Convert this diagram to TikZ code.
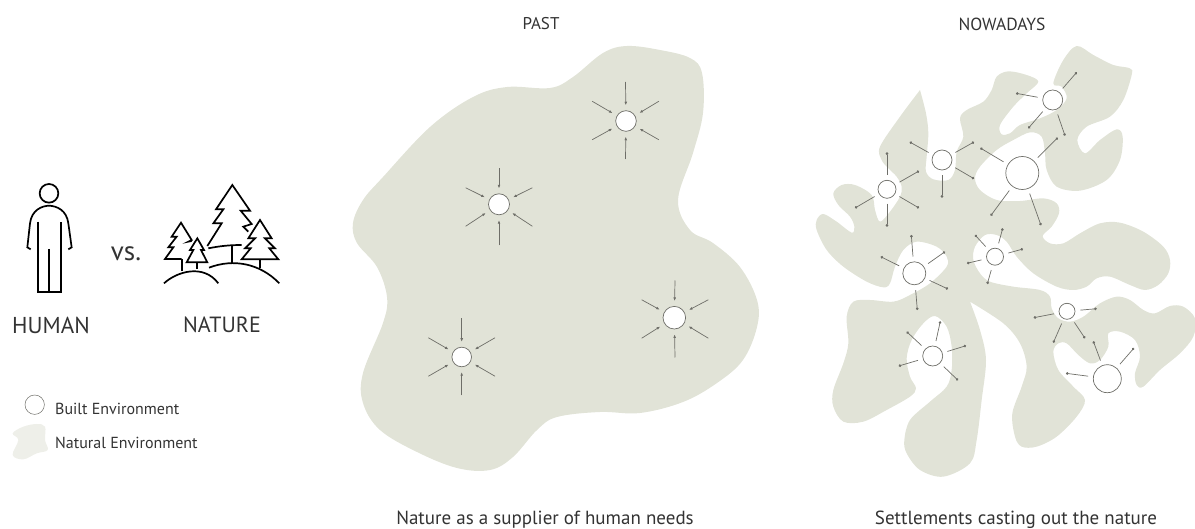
\documentclass[tikz,border=0pt]{standalone}
\usepackage{fontspec}
\setmainfont{PT Sans}
\usetikzlibrary{arrows.meta}
\definecolor{LandGreen}{HTML}{E1E3D7}
\definecolor{PaleGreen}{HTML}{EEEFE9}
\definecolor{InkGray}{HTML}{333333}
\definecolor{RayGray}{HTML}{6E6E68}
\tikzset{
  site/.style={circle,draw=RayGray,fill=white,line width=0.7pt,inner sep=0pt},
  inflow/.style={-{Latex[length=3.6pt,width=2.8pt]},RayGray,line width=0.7pt,shorten >=5pt},
  outflow/.style={-{Circle[length=2.6pt]},RayGray,line width=0.7pt,shorten <=5pt},
  icon/.style={black,line width=1.7pt,line join=miter},
  label/.style={text=InkGray,inner sep=0pt}
}
\begin{document}
\begin{tikzpicture}[x=1pt,y=-1pt]
  \useasboundingbox (0,0) rectangle (1195,529);
  % past land
  \fill[LandGreen] plot[smooth cycle,tension=0.6] coordinates {
    (627,46) (660,50) (690,58) (702,73) (703,113) (693,153) (678,200) (690,230)
    (713,243) (740,267) (757,300) (757,327) (743,360) (717,383) (683,402) (640,413)
    (600,412) (557,417) (537,430) (513,457) (490,470) (457,468) (417,452) (380,430)
    (363,403) (363,373) (383,323) (387,297) (377,267) (357,243) (353,223) (363,200)
    (383,177) (430,127) (473,97) (507,87) (550,88) (573,77) (603,53)};
  % nowadays land, one outline with two sharp tips
  \begin{scope}[shift={(800,30)},scale=1/3]
    \fill[LandGreen] plot[smooth,tension=0.55] coordinates {
      (360,180) (378,250) (385,310) (380,380) (378,425) (400,448) (445,450) (465,420)
      (470,365) (490,320) (480,265) (500,240) (550,215) (575,180) (590,140) (625,124)
      (680,135) (715,155) (680,190) (640,230) (600,285) (605,313) (630,310) (660,285)
      (720,265) (770,240) (800,205) (785,170) (760,160) (790,90) (830,48) (880,75)
      (940,105) (990,115) (995,135) (970,210) (930,260) (860,290) (832,330) (855,370)
      (900,330) (950,298) (968,320) (960,390) (920,450) (840,482) (770,470) (740,420)
      (735,370) (725,320) (690,307) (640,330) (590,360) (540,410) (525,445) (540,480)
      (590,510) (660,513) (730,505) (770,520) (777,550) (755,590) (728,618) (750,640)
      (790,640) (840,610) (900,580) (960,578) (1030,605) (1090,650) (1110,690) (1105,730)
      (1075,765) (1035,780) (990,765) (930,740) (890,745) (860,770) (820,780) (770,770)
      (700,730) (650,680) (620,635) (590,615) (555,615) (525,650) (520,690) (540,730)
      (570,755) (640,770) (720,780) (750,800) (755,835) (775,865) (810,875) (850,860)
      (900,820) (950,800) (990,810) (1030,840) (1065,850) (1110,828) (1150,830) (1185,865)
      (1180,920) (1140,970) (1080,1020) (1030,1070) (1010,1065) (1005,1030) (1020,980)
      (1005,930) (960,905) (925,910) (925,950) (900,990) (870,1000) (835,975) (800,940)
      (775,940) (760,965) (775,1020) (820,1070) (855,1110) (830,1160) (770,1220)
      (710,1250) (665,1250) (645,1220) (637,1150) (665,1070) (680,1010) (660,940)
      (610,880) (510,815)}
      -- plot[smooth,tension=0.55] coordinates {
      (510,815) (540,900) (558,990) (545,1110) (530,1230) (510,1300) (430,1340)
      (360,1320) (320,1270) (313,1230) (330,1170) (390,1115) (440,1070) (455,1020)
      (455,950) (440,890) (405,858) (370,880) (335,930) (320,985) (330,1040) (348,1075)
      (330,1100) (260,1140) (190,1175) (130,1175) (100,1130) (100,1080) (130,1000)
      (145,940) (140,860) (160,815) (210,810) (280,815) (330,795) (390,760) (440,710)
      (440,680) (410,650) (350,635) (310,660) (285,710) (270,760) (250,772) (200,755)
      (130,710) (80,660) (50,600) (50,570) (70,552) (110,575) (155,608) (163,590)
      (150,560) (115,525) (100,490) (125,465) (165,465) (215,495) (225,540) (240,575)
      (270,545) (300,500) (305,470) (290,440) (265,415) (245,390) (240,350) (300,260)
      (360,180)} -- cycle;
  \end{scope}
  % past settlements
  \foreach \nm/\cx/\cy/\rad/\ax/\ay in {p1/626/121/10.3/625.5/120.5,p2/499/204.3/10.5/499/207,
      p3/674.3/317.7/11.3/675/319,p4/461.7/357/9.8/461.7/357}{
    \node[site,minimum size=2*\rad pt] (\nm) at (\cx,\cy) {};
    \foreach \ang in {30,90,150,210,270,330}{
      \coordinate (\nm o\ang) at ([shift={(\ang:38.5)}]\ax,\ay);
      \draw[inflow] (\nm o\ang) -- (\nm);
    }
  }
  % nowadays settlements
  \foreach \nm/\cx/\cy/\rad/\ends in {
      n1/1052.7/100/10/{1076.7/72.3,1016/93.3,1028.3/128.3,1065/135.7},
      n2/942/160/10/{909.7/142,974/142,974/178.7,942/197.7},
      n3/1022.3/173/16.5/{980.3/148,1057.7/137.7,990.7/215.7,1041/225.3},
      n4/887/189.3/9/{887/152.3,919/171,919/208,887/226.7,855/208},
      n5/914.3/273.3/11.5/{911.3/235,880.7/256.7,945/251.7,948/289,917.3/310},
      n6/995/256.7/8.5/{1002.7/228.3,975/235,1023/249,967/263.3,987.3/284},
      n7/1067/311.3/8/{1096.7/308.7,1033.7/317.7,1053.3/342.7,1085/338.3},
      n8/1107.3/378.7/14/{1134/348,1093.3/341.3,1066/373.3},
      n9/932.7/356/10/{940.3/321.3,906.7/331.7,966/345.7,898.7/366,958/380.3}}{
    \node[site,minimum size=2*\rad pt] (\nm) at (\cx,\cy) {};
    \foreach \ex/\ey in \ends {
      \coordinate (tip) at (\ex,\ey);
      \draw[outflow] (\nm) -- (tip);
    }
  }
  % human icon
  \begin{scope}[shift={(0,170)},scale=1/3]
    \draw[icon] (147,70) circle (28);
    \draw[icon] (92,238) -- (82,232) -- (90,160) .. controls (95,120) and (125,108) .. (147,107)
      .. controls (170,108) and (200,120) .. (205,160) -- (215,232) -- (205,238);
    \draw[icon] (113,155) -- (113,367) -- (182,367) -- (182,155);
    \draw[icon] (147,237) -- (147,367);
    % trees
    \draw[icon] (622,228) -- (665,160) -- (640,160) -- (670,118) -- (648,118) -- (697,45)
      -- (750,122) -- (722,122) -- (755,162) -- (730,170) -- (745,185);
    \draw[icon] (625,235) .. controls (660,228) and (690,225) .. (725,225);
    \draw[icon] (697,225) -- (697,280);
    \draw[icon] (780,150) -- (815,205) -- (795,205) -- (825,235) -- (808,235) -- (835,268)
      -- (725,268) -- (752,235) -- (735,235) -- (765,205) -- (745,205) -- cycle;
    \draw[icon] (780,268) -- (780,295);
    \draw[icon] (575,213) -- (565,215) -- (575,210) -- (543,158) -- (515,200) -- (530,200)
      -- (505,232) -- (520,232) -- (495,267) -- (545,267);
    \draw[icon] (545,267) -- (545,302);
    \draw[icon] (592,205) -- (612,240) -- (603,240) -- (622,277) -- (560,277) -- (580,240)
      -- (570,240) -- cycle;
    \draw[icon] (592,277) -- (592,298);
    \draw[icon] (492,340) .. controls (530,305) and (610,280) .. (655,340);
    \draw[icon] (627,293) .. controls (700,265) and (780,280) .. (838,340);
    % legend land
    \fill[PaleGreen] plot[smooth cycle,tension=0.6] coordinates {
      (110,762) (135,770) (135,810) (143,840) (110,850) (70,868) (38,855) (55,810) (38,790) (70,770)};
  \end{scope}
  \node[site,minimum size=19.4pt,line width=0.5pt] (legendsite) at (34.7,404.7) {};
  % texts
  \node[label,font=\fontsize{17}{20}\selectfont] (past) at (541,24) {PAST};
  \node[label,font=\fontsize{17.5}{20}\selectfont] (nowadays) at (1002,24) {NOWADAYS};
  \node[label,font=\fontsize{27}{32}\selectfont] (vs) at (126,254) {vs.};
  \node[label,font=\fontsize{23}{27}\selectfont] (human) at (51,325) {HUMAN};
  \node[label,font=\fontsize{22}{26}\selectfont] (nature) at (222,325) {NATURE};
  \node[label,font=\fontsize{16}{19}\selectfont,anchor=west] (built) at (55,409) {Built Environment};
  \node[label,font=\fontsize{16}{19}\selectfont,anchor=west] (natural) at (55,443) {Natural Environment};
  \node[label,font=\fontsize{19}{23}\selectfont] (suppliercap) at (545,520) {Nature as a supplier of human needs};
  \node[label,font=\fontsize{19}{23}\selectfont] (settlecap) at (1016,520) {Settlements casting out the nature};
\end{tikzpicture}
\end{document}
